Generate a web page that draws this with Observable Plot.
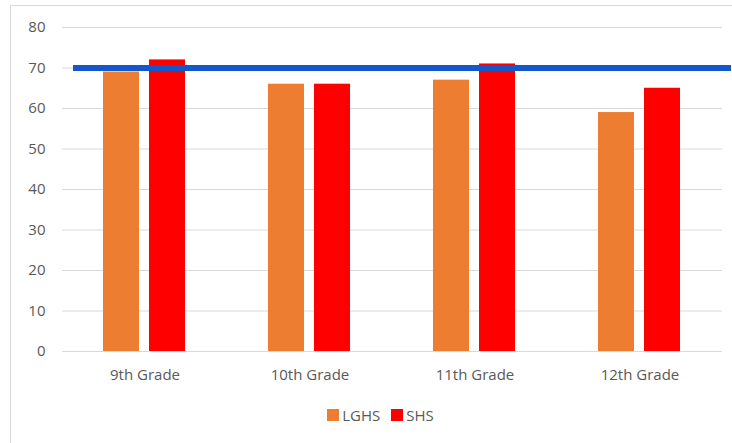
<!DOCTYPE html>
<html><head><meta charset="utf-8">
<script src="https://cdn.jsdelivr.net/npm/d3@7"></script>
<script src="https://cdn.jsdelivr.net/npm/@observablehq/plot@0.6"></script>
<style>
body{margin:0;background:#fff;width:732px;height:443px;overflow:hidden;position:relative;font-family:"Open Sans",sans-serif;}
#frame{position:absolute;left:10px;top:5px;width:740px;height:460px;border:1px solid #d9d9d9;box-sizing:border-box;}
#chart{position:absolute;left:0;top:0;}
#legend{position:absolute;left:0;top:398px;width:772px;display:flex;justify-content:center;}
#legend [class$="-swatch"]{margin-right:11px !important;}
#legend [class$="-swatch"] > svg{margin-right:3px !important;}
</style></head><body>
<div id="frame"></div><div id="chart"></div><div id="legend"></div>
<script>
const grades = ["9th Grade", "10th Grade", "11th Grade", "12th Grade"];
const schools = ["LGHS", "SHS"];
const lghs = [69, 66, 67, 59];
const shs = [72, 66, 71, 65];
const target = 70;
const colors = ["#ED7D31", "#FF0000"];
const yTicks = [0, 10, 20, 30, 40, 50, 60, 70, 80];

const rows = grades.flatMap((g, i) => [
  {grade: g, school: schools[0], value: lghs[i]},
  {grade: g, school: schools[1], value: shs[i]}
]);
const targetRows = grades.map(g => ({grade: g, value: target}));
const first = grades[0], last = grades[grades.length - 1];
const ruleStyle = {fx: "grade", y: "value", stroke: "#1257cc", strokeWidth: 6};

const chart = Plot.plot({
  width: 732, height: 390,
  marginTop: 27, marginBottom: 39, marginLeft: 60, marginRight: 9,
  style: {fontFamily: "Open Sans", fontSize: "15px", color: "#595959", background: "transparent"},
  fx: {domain: grades, padding: 0, label: null},
  x: {domain: schools, paddingInner: 0.21, paddingOuter: 0.87, axis: null},
  y: {domain: [0, 80], label: null},
  color: {domain: schools, range: colors},
  marks: [
    Plot.gridY(yTicks, {stroke: "#d9d9d9", strokeOpacity: 1, strokeWidth: 1}),
    Plot.barY(rows, {fx: "grade", x: "school", y: "value", fill: "school"}),
    Plot.ruleY(targetRows, {...ruleStyle, filter: d => d.grade === first, insetLeft: 11}),
    Plot.ruleY(targetRows, {...ruleStyle, filter: d => d.grade !== first && d.grade !== last}),
    Plot.ruleY(targetRows, {...ruleStyle, filter: d => d.grade === last, insetRight: -9}),
    Plot.axisY(yTicks, {tickSize: 0, tickPadding: 17, label: null, fill: "#595959"}),
    Plot.axisFx({anchor: "bottom", tickSize: 0, tickPadding: 18, label: null, fill: "#595959"})
  ]
});
document.getElementById("chart").appendChild(chart);

const legend = Plot.legend({
  color: {domain: schools, range: colors},
  swatchSize: 12,
  style: {fontFamily: "Open Sans", fontSize: "15px", color: "#595959"}
});
document.getElementById("legend").appendChild(legend);
</script>
</body></html>
